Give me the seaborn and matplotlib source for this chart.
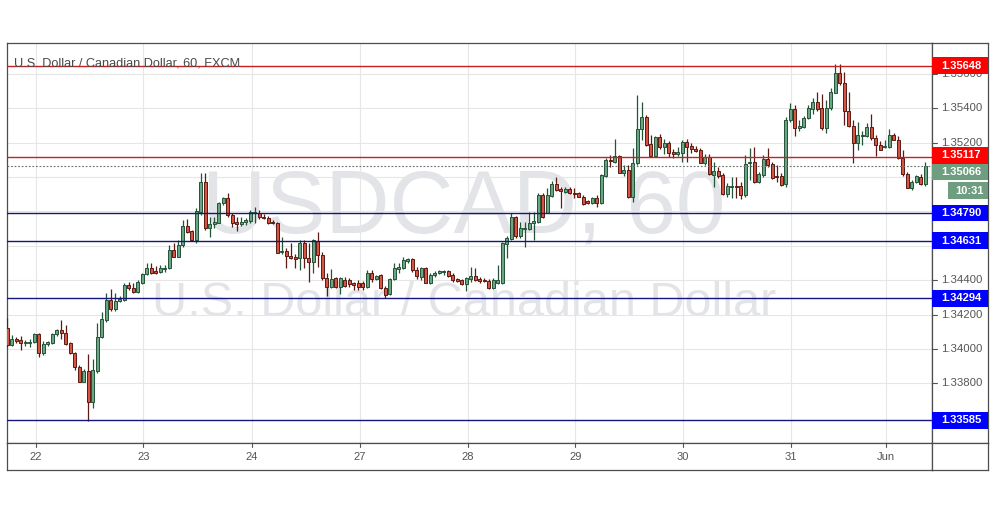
import matplotlib
matplotlib.use("Agg")
import matplotlib.pyplot as plt
from matplotlib.patches import Rectangle
import numpy as np
import pandas as pd
import seaborn as sns

sns.set_theme(style="white")
plt.rcParams["font.family"] = ["Liberation Sans", "DejaVu Sans"]

# ---------------- data (hourly candles, USDCAD 60) ----------------
opens = [
    1.34120, 1.34023, 1.34058, 1.34052, 1.34033, 1.34033, 1.34041, 1.34087, 1.33975, 1.34027,
    1.34033, 1.34087, 1.34110, 1.34091, 1.34033, 1.33978, 1.33897, 1.33810, 1.33872, 1.33693,
    1.33872, 1.34068, 1.34169, 1.34285, 1.34231, 1.34279, 1.34285, 1.34372, 1.34353, 1.34333,
    1.34386, 1.34434, 1.34469, 1.34454, 1.34449, 1.34467, 1.34469, 1.34576, 1.34537, 1.34603,
    1.34715, 1.34686, 1.34634, 1.34799, 1.34973, 1.34705, 1.34725, 1.34735, 1.34847, 1.34876,
    1.34779, 1.34740, 1.34725, 1.34737, 1.34744, 1.34789, 1.34793, 1.34769, 1.34760, 1.34740,
    1.34735, 1.34562, 1.34571, 1.34542, 1.34537, 1.34527, 1.34615, 1.34527, 1.34508, 1.34630,
    1.34547, 1.34411, 1.34362, 1.34411, 1.34362, 1.34401, 1.34401, 1.34382, 1.34382, 1.34382,
    1.34362, 1.34440, 1.34405, 1.34430, 1.34353, 1.34320, 1.34405, 1.34465, 1.34469, 1.34514,
    1.34522, 1.34459, 1.34420, 1.34469, 1.34386, 1.34430, 1.34444, 1.34449, 1.34455, 1.34430,
    1.34405, 1.34401, 1.34376, 1.34405, 1.34424, 1.34405, 1.34401, 1.34395, 1.34356, 1.34382,
    1.34382, 1.34611, 1.34638, 1.34769, 1.34657, 1.34696, 1.34696, 1.34735, 1.34740, 1.34896,
    1.34793, 1.34892, 1.34960, 1.34931, 1.34915, 1.34931, 1.34905, 1.34905, 1.34886, 1.34861,
    1.34851, 1.34876, 1.34847, 1.35008, 1.35099, 1.35089, 1.35122, 1.35025, 1.35041, 1.34886,
    1.35080, 1.35278, 1.35349, 1.35192, 1.35122, 1.35231, 1.35173, 1.35198, 1.35146, 1.35133,
    1.35142, 1.35204, 1.35181, 1.35163, 1.35157, 1.35084, 1.35118, 1.35012, 1.35037, 1.35012,
    1.34901, 1.34944, 1.34948, 1.34948, 1.34896, 1.35080, 1.35089, 1.34973, 1.35012, 1.35103,
    1.35076, 1.35006, 1.35006, 1.34960, 1.35332, 1.35398, 1.35284, 1.35293, 1.35345, 1.35396,
    1.35438, 1.35400, 1.35284, 1.35400, 1.35491, 1.35603, 1.35545, 1.35382, 1.35300, 1.35196,
    1.35241, 1.35239, 1.35293, 1.35226, 1.35188, 1.35177, 1.35177, 1.35245, 1.35218, 1.35109,
    1.35017, 1.34939, 1.34969, 1.35003, 1.34960,
]
highs = [
    1.34179, 1.34081, 1.34071, 1.34075, 1.34052, 1.34056, 1.34094, 1.34094, 1.34048, 1.34048,
    1.34094, 1.34116, 1.34169, 1.34140, 1.34042, 1.33984, 1.33907, 1.33884, 1.33969, 1.33940,
    1.34149, 1.34217, 1.34324, 1.34347, 1.34324, 1.34308, 1.34386, 1.34391, 1.34382, 1.34401,
    1.34444, 1.34498, 1.34502, 1.34483, 1.34487, 1.34487, 1.34605, 1.34615, 1.34634, 1.34750,
    1.34754, 1.34692, 1.34818, 1.35025, 1.35025, 1.34769, 1.34766, 1.34857, 1.34882, 1.34905,
    1.34789, 1.34766, 1.34766, 1.34760, 1.34808, 1.34828, 1.34808, 1.34785, 1.34773, 1.34750,
    1.34740, 1.34650, 1.34585, 1.34615, 1.34553, 1.34634, 1.34634, 1.34615, 1.34638, 1.34682,
    1.34566, 1.34440, 1.34463, 1.34420, 1.34420, 1.34417, 1.34411, 1.34391, 1.34401, 1.34397,
    1.34459, 1.34459, 1.34430, 1.34434, 1.34366, 1.34411, 1.34498, 1.34498, 1.34537, 1.34531,
    1.34527, 1.34479, 1.34479, 1.34479, 1.34444, 1.34455, 1.34459, 1.34459, 1.34459, 1.34440,
    1.34411, 1.34405, 1.34420, 1.34479, 1.34469, 1.34420, 1.34411, 1.34405, 1.34411, 1.34489,
    1.34624, 1.34657, 1.34792, 1.34775, 1.34740, 1.34740, 1.34799, 1.34799, 1.34905, 1.34905,
    1.34935, 1.34979, 1.35002, 1.34944, 1.34940, 1.34940, 1.34938, 1.34915, 1.34896, 1.34867,
    1.34886, 1.34896, 1.35018, 1.35109, 1.35128, 1.35220, 1.35128, 1.35070, 1.35070, 1.35169,
    1.35477, 1.35438, 1.35361, 1.35245, 1.35239, 1.35253, 1.35221, 1.35210, 1.35166, 1.35175,
    1.35216, 1.35219, 1.35197, 1.35181, 1.35167, 1.35134, 1.35134, 1.35089, 1.35060, 1.35022,
    1.34964, 1.35002, 1.35000, 1.34973, 1.35128, 1.35167, 1.35177, 1.35030, 1.35128, 1.35167,
    1.35089, 1.35070, 1.35022, 1.35351, 1.35429, 1.35419, 1.35332, 1.35355, 1.35419, 1.35462,
    1.35497, 1.35481, 1.35448, 1.35516, 1.35656, 1.35655, 1.35613, 1.35497, 1.35332, 1.35322,
    1.35268, 1.35313, 1.35365, 1.35245, 1.35210, 1.35216, 1.35280, 1.35256, 1.35239, 1.35157,
    1.35027, 1.34983, 1.35012, 1.35018, 1.35085,
]
lows = [
    1.34013, 1.34017, 1.34036, 1.33994, 1.34017, 1.34013, 1.34033, 1.33955, 1.33965, 1.34019,
    1.34029, 1.34077, 1.34058, 1.34023, 1.33969, 1.33878, 1.33806, 1.33806, 1.33583, 1.33655,
    1.33858, 1.34062, 1.34159, 1.34223, 1.34223, 1.34271, 1.34279, 1.34343, 1.34327, 1.34327,
    1.34378, 1.34428, 1.34434, 1.34436, 1.34444, 1.34449, 1.34463, 1.34533, 1.34533, 1.34595,
    1.34676, 1.34628, 1.34615, 1.34779, 1.34692, 1.34653, 1.34702, 1.34731, 1.34838, 1.34769,
    1.34711, 1.34686, 1.34715, 1.34721, 1.34731, 1.34735, 1.34754, 1.34754, 1.34727, 1.34727,
    1.34556, 1.34553, 1.34469, 1.34521, 1.34469, 1.34459, 1.34469, 1.34391, 1.34440, 1.34479,
    1.34401, 1.34308, 1.34353, 1.34353, 1.34320, 1.34362, 1.34362, 1.34343, 1.34343, 1.34343,
    1.34353, 1.34391, 1.34401, 1.34347, 1.34295, 1.34314, 1.34401, 1.34440, 1.34463, 1.34498,
    1.34449, 1.34405, 1.34401, 1.34382, 1.34378, 1.34420, 1.34434, 1.34430, 1.34420, 1.34391,
    1.34391, 1.34372, 1.34338, 1.34391, 1.34397, 1.34386, 1.34388, 1.34347, 1.34347, 1.34376,
    1.34376, 1.34527, 1.34634, 1.34645, 1.34643, 1.34595, 1.34692, 1.34634, 1.34735, 1.34763,
    1.34789, 1.34886, 1.34921, 1.34818, 1.34905, 1.34899, 1.34876, 1.34882, 1.34838, 1.34843,
    1.34843, 1.34827, 1.34843, 1.35002, 1.35060, 1.35080, 1.35022, 1.35009, 1.34876, 1.34857,
    1.35070, 1.35216, 1.35181, 1.35115, 1.35115, 1.35163, 1.35134, 1.35117, 1.35111, 1.35122,
    1.35089, 1.35089, 1.35138, 1.35146, 1.35080, 1.35070, 1.35012, 1.34944, 1.34993, 1.34896,
    1.34882, 1.34881, 1.34878, 1.34871, 1.34882, 1.34983, 1.34964, 1.34963, 1.35002, 1.35060,
    1.34987, 1.34973, 1.34948, 1.34944, 1.35322, 1.35240, 1.35268, 1.35285, 1.35338, 1.35365,
    1.35384, 1.35274, 1.35254, 1.35390, 1.35487, 1.35536, 1.35303, 1.35293, 1.35082, 1.35157,
    1.35187, 1.35235, 1.35216, 1.35125, 1.35157, 1.35169, 1.35171, 1.35216, 1.35103, 1.35009,
    1.34935, 1.34925, 1.34963, 1.34954, 1.34950,
]
closes = [
    1.34023, 1.34056, 1.34048, 1.34033, 1.34039, 1.34042, 1.34087, 1.33975, 1.34029, 1.34039,
    1.34087, 1.34110, 1.34091, 1.34027, 1.33975, 1.33894, 1.33810, 1.33874, 1.33693, 1.33878,
    1.34071, 1.34173, 1.34285, 1.34231, 1.34279, 1.34289, 1.34372, 1.34353, 1.34333, 1.34387,
    1.34436, 1.34473, 1.34440, 1.34440, 1.34469, 1.34473, 1.34576, 1.34537, 1.34605, 1.34715,
    1.34682, 1.34634, 1.34803, 1.34973, 1.34705, 1.34727, 1.34740, 1.34847, 1.34876, 1.34779,
    1.34735, 1.34725, 1.34740, 1.34750, 1.34795, 1.34799, 1.34766, 1.34760, 1.34735, 1.34735,
    1.34560, 1.34570, 1.34541, 1.34527, 1.34523, 1.34618, 1.34527, 1.34508, 1.34634, 1.34547,
    1.34411, 1.34362, 1.34405, 1.34362, 1.34411, 1.34366, 1.34376, 1.34372, 1.34362, 1.34359,
    1.34444, 1.34405, 1.34424, 1.34353, 1.34314, 1.34405, 1.34469, 1.34479, 1.34518, 1.34522,
    1.34459, 1.34424, 1.34469, 1.34386, 1.34430, 1.34444, 1.34454, 1.34455, 1.34426, 1.34401,
    1.34397, 1.34376, 1.34411, 1.34424, 1.34401, 1.34397, 1.34395, 1.34353, 1.34401, 1.34401,
    1.34615, 1.34643, 1.34769, 1.34657, 1.34702, 1.34705, 1.34735, 1.34746, 1.34896, 1.34769,
    1.34896, 1.34960, 1.34925, 1.34919, 1.34931, 1.34905, 1.34901, 1.34886, 1.34843, 1.34847,
    1.34876, 1.34847, 1.35012, 1.35099, 1.35091, 1.35122, 1.35025, 1.35043, 1.34886, 1.35080,
    1.35278, 1.35349, 1.35187, 1.35122, 1.35231, 1.35173, 1.35198, 1.35140, 1.35133, 1.35148,
    1.35206, 1.35177, 1.35161, 1.35154, 1.35084, 1.35117, 1.35018, 1.35037, 1.35006, 1.34904,
    1.34948, 1.34948, 1.34944, 1.34896, 1.35076, 1.35089, 1.34973, 1.35016, 1.35103, 1.35070,
    1.34993, 1.34998, 1.34954, 1.35332, 1.35398, 1.35284, 1.35297, 1.35345, 1.35400, 1.35438,
    1.35396, 1.35284, 1.35400, 1.35497, 1.35603, 1.35545, 1.35382, 1.35298, 1.35196, 1.35245,
    1.35245, 1.35293, 1.35226, 1.35187, 1.35157, 1.35181, 1.35245, 1.35218, 1.35109, 1.35017,
    1.34939, 1.34971, 1.35004, 1.34960, 1.35066,
]

day_labels = ["22", "23", "24", "27", "28", "29", "30", "31", "Jun"]
day_start_candle = [6.3, 30.2, 54.3, 78.4, 102.4, 126.2, 150.1, 174.1, 195.2]

price_ticks = [1.33800, 1.34000, 1.34200, 1.34400, 1.34600, 1.34800,
               1.35000, 1.35200, 1.35400, 1.35600]
resistance_levels = [1.35648, 1.35117]
support_levels = [1.34790, 1.34631, 1.34294, 1.33585]
last_price = 1.35066
countdown = "10:31"
title = "U.S. Dollar / Canadian Dollar, 60, FXCM"
watermark_symbol = "USDCAD, 60"
watermark_name = "U.S. Dollar / Canadian Dollar"

df = pd.DataFrame({"open": opens, "high": highs, "low": lows, "close": closes})
df["i"] = np.arange(len(df))
df["up"] = df["close"] >= df["open"]

# ---------------- layout ----------------
W, H = 995, 507
fig = plt.figure(figsize=(W / 100, H / 100), dpi=100)
fig.patch.set_facecolor("white")

def fbox(x0, y0, x1, y1):
    return [x0 / W, 1 - y1 / H, (x1 - x0) / W, (y1 - y0) / H]

PL, PR, PT, PB = 7, 932, 43, 443
AR, AB = 988, 470
ax = fig.add_axes(fbox(PL, PT, PR, PB))
axr = fig.add_axes(fbox(PR, PT, AR, PB))
axb = fig.add_axes(fbox(PL, PB, PR, AB))
axc = fig.add_axes(fbox(PR, PB, AR, AB))

XLIM = (-0.07, 205.5)
YLIM = (1.33453, 1.35780)
px_per_price = (PB - PT) / (YLIM[1] - YLIM[0])

for a in (ax, axr, axb, axc):
    a.set_facecolor("white")
    a.set_xticks([])
    a.set_yticks([])
    for s in a.spines.values():
        s.set_visible(True)
        s.set_color("#4d4d4d")
        s.set_linewidth(0.9)

ax.set_xlim(*XLIM)
ax.set_ylim(*YLIM)

# watermark
ax.text(0.494, 0.525, watermark_symbol, transform=ax.transAxes, ha="center",
        va="baseline", fontsize=64, color="#e2e4e8", zorder=0.5)
ax.text(0.494, 0.318, watermark_name, transform=ax.transAxes, ha="center",
        va="baseline", fontsize=35, color="#e2e4e8", zorder=0.5)

# grid
grid_c = "#e6e6e6"
ax.hlines(price_ticks, XLIM[0], XLIM[1], colors=grid_c, lw=0.8, zorder=1)
ax.vlines(day_start_candle, YLIM[0], YLIM[1], colors=grid_c, lw=0.8, zorder=1)

# candles
up_fill, up_edge = "#6ba583", "#225437"
dn_fill, dn_edge = "#d75442", "#5b1a13"
edge_cols = np.where(df["up"], up_edge, dn_edge)
fill_cols = np.where(df["up"], up_fill, dn_fill)
ax.vlines(df["i"], df["low"], df["high"], colors=edge_cols, lw=0.9, zorder=3)
body_bottom = np.minimum(df["open"], df["close"])
body_h = np.maximum((df["close"] - df["open"]).abs(), 0.00001)
ax.bar(df["i"], body_h, bottom=body_bottom, width=0.62, color=fill_cols,
       edgecolor=edge_cols, linewidth=0.7, zorder=4)

# horizontal levels
for lv in resistance_levels:
    ax.axhline(lv, color="#c42222", lw=1.0, zorder=5)
for lv in support_levels:
    ax.axhline(lv, color="#16167a", lw=1.0, zorder=5)
ax.axhline(last_price, color="#707070", lw=0.8, ls=(0, (1.6, 1.6)), zorder=5)

# title
fig.text(14 / W, 1 - 66 / H, title, fontsize=9.2, color="#4a4a4a", va="baseline")

# ---------------- price scale ----------------
axr.set_xlim(0, 1)
axr.set_ylim(*YLIM)

box_h = 16.5 / px_per_price
label_shift_px = {1.35117: 1.5, 1.35066: -6.3}
box_centres = ([lv + label_shift_px.get(lv, 0.0) / px_per_price for lv in resistance_levels]
               + list(support_levels)
               + [last_price + label_shift_px[last_price] / px_per_price])

for p in price_ticks:
    axr.plot([0, 0.09], [p, p], color="#555555", lw=0.8, zorder=1)
    # labels fully covered by a coloured price box are not drawn
    if min(abs(p - c) for c in box_centres) * px_per_price < 8:
        continue
    axr.text(0.17, p, f"{p:.5f}", ha="left", va="center", fontsize=8.2,
             color="#555555", zorder=1)

def price_box(level, color, text, x0=0.0, shift_px=0.0):
    yc = level + shift_px / px_per_price
    axr.add_patch(Rectangle((x0, yc - box_h / 2), 1 - x0, box_h, facecolor=color,
                            edgecolor="none", zorder=5, clip_on=False))
    axr.text((x0 + 1) / 2 + 0.02, yc, text, ha="center", va="center", fontsize=8,
             fontweight="bold", color="white", zorder=6)
    return yc

for lv in resistance_levels:
    price_box(lv, "#ff0000", f"{lv:.5f}", shift_px=label_shift_px.get(lv, 0.0))
for lv in support_levels:
    price_box(lv, "#0000ff", f"{lv:.5f}")
price_box(last_price, "#6e9e7f", f"{last_price:.5f}",
          shift_px=label_shift_px.get(last_price, 0.0))
price_box(last_price, "#6e9e7f", countdown, x0=0.286,
          shift_px=label_shift_px.get(last_price, 0.0) - 18.5)

# ---------------- time scale ----------------
axb.set_xlim(*XLIM)
axb.set_ylim(0, 1)
for pos, lab in zip(day_start_candle, day_labels):
    axb.plot([pos, pos], [1, 0.85], color="#555555", lw=0.8)
    axb.text(pos, 0.47, lab, ha="center", va="center", fontsize=8, color="#555555")

fig.savefig("out.png", dpi=100, facecolor="white")
